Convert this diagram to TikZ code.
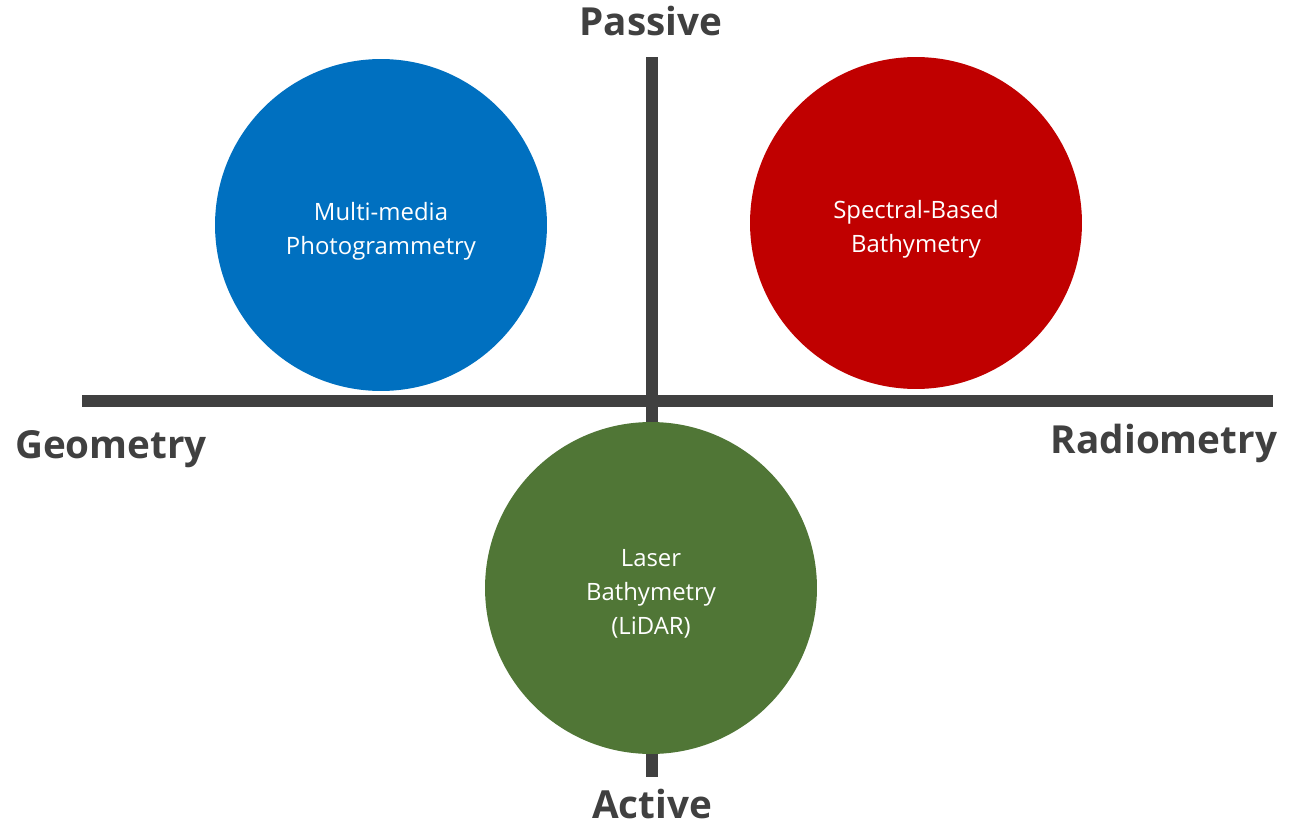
\documentclass[tikz,border=0pt]{standalone}
\usepackage{fontspec}
\setmainfont{Open Sans}
\usepackage{tikz}

\definecolor{axisgray}{HTML}{404040}
\definecolor{photoblue}{HTML}{0070C0}
\definecolor{spectralred}{HTML}{C00000}
\definecolor{lasergreen}{HTML}{507636}

\tikzset{
    axis/.style={line width=0.23cm, draw=axisgray},
    blob/.style={circle, minimum size=6.64cm, inner sep=0pt},
    blobtext/.style={align=center, text=white, font=\fontsize{13.6}{19.3}\selectfont},
    axislabel/.style={anchor=base, text=axisgray,
        font=\fontsize{22}{26}\selectfont\bfseries}
}

\begin{document}
\begin{tikzpicture}[x=0.02cm, y=-0.02cm]
        \useasboundingbox (0,0) rectangle (1289,825);

        % Axes
        \coordinate (top) at (652,57);
        \coordinate (bottom) at (652,777);
        \coordinate (left) at (82,401);
        \coordinate (right) at (1273,401);
        \draw[axis] (left) -- (right);
        \draw[axis] (top) -- (bottom);

        % Circles
        \node[blob, fill=photoblue] (photo) at (381,225) {};
        \node[blob, fill=spectralred] (spectral) at (916,223) {};
        \node[blob, fill=lasergreen] (laser) at (651,588) {};

        % Circle texts
        \node[blobtext] (phototext) at (381,231) {Multi-media\\Photogrammetry};
        \node[blobtext] (spectraltext) at (916,229) {Spectral-Based\\Bathymetry};
        \node[blobtext] (lasertext) at (651,594) {Laser\\Bathymetry\\(LiDAR)};

        % Axis labels
        \node[axislabel] (passive) at (651,35) {Passive};
        \node[axislabel] (active) at (652,818) {Active};
        \node[axislabel] (geometry) at (111,458) {Geometry};
        \node[axislabel] (radiometry) at (1164,453) {Radiometry};
\end{tikzpicture}
\end{document}
